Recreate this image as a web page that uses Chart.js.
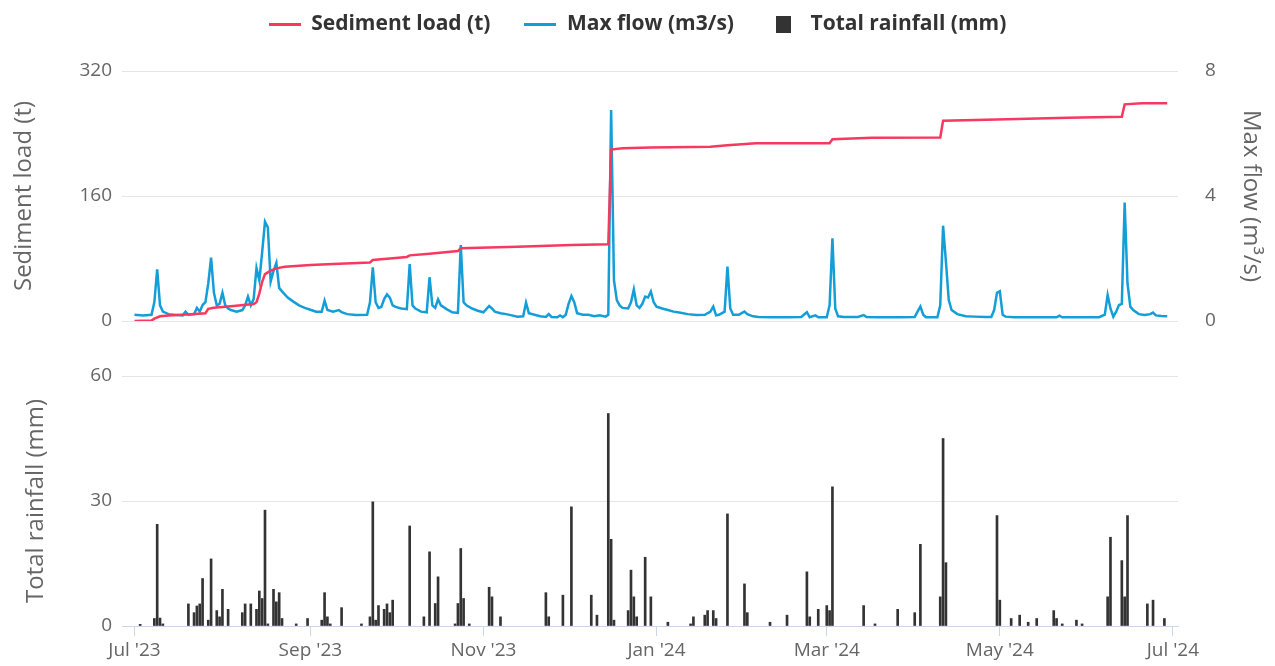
<!DOCTYPE html>
<html>
<head>
<meta charset="utf-8">
<title>Sediment load, max flow and rainfall</title>
<script src="https://cdn.jsdelivr.net/npm/chart.js@4.4.1/dist/chart.umd.min.js"></script>
<style>
  html, body { margin: 0; padding: 0; background: #ffffff; }
  #wrap { width: 1275px; height: 666px; }
</style>
</head>
<body>
<div id="wrap"><canvas id="myChart" width="1275" height="666"></canvas></div>
<script>
// x values are day numbers counted from 1 Jul 2023 (day 0)
const tickDays   = [0, 62, 123, 184, 244, 305, 366];
const tickLabels = ["Jul '23", "Sep '23", "Nov '23", "Jan '24", "Mar '24", "May '24", "Jul '24"];

// Sediment load (t), cumulative - at its corners
const sedimentDays = [0, 6, 7, 9, 12, 20, 25, 26, 28, 34, 42, 43, 44, 45, 46, 48, 50, 53, 62, 70,
                      83, 84, 90, 96, 97, 104, 114, 115, 125, 135, 154, 167, 168, 172, 182, 203, 209, 219,
                      245, 246, 260, 284, 285, 304, 329, 348, 349, 355, 364];
const sedimentLoad = [0, 0.5, 3, 6, 7, 8.5, 10, 15.5, 17, 19, 21.8, 24, 35, 50, 60, 64.5, 67.4, 69.5, 71.7, 73,
                      74.8, 78, 80, 82, 84, 86, 89.5, 93, 94, 95, 97.3, 98.1, 219.5, 221, 222, 223, 225, 227.4,
                      227.6, 232.6, 234.5, 235, 256.4, 258, 260.3, 261.5, 277.3, 278.6, 278.8];

// Max flow (m3/s)
const flowDays = [0, 3, 6, 7, 8, 9, 10, 12, 14, 17, 18, 19, 21, 22, 23, 24, 25, 26, 27, 28, 29, 30,
                  31, 32, 33, 34, 36, 38, 39, 40, 41, 42, 43, 44, 45, 46, 47, 48, 49, 50, 51, 52, 54, 56, 58, 60,
                  62, 64, 66, 67, 68, 70, 72, 73, 75, 78, 82, 83, 84, 85, 86, 87, 88, 89, 90,
                  91, 92, 94, 96, 97, 98, 99, 101, 103, 104, 105, 106, 107, 108, 110, 112, 114, 115, 116, 117, 119, 121,
                  123, 125, 126, 127, 129, 131, 133, 135, 137, 138, 139, 141, 143, 145, 146, 147, 149, 150, 151, 152,
                  153, 154, 155, 156, 158, 160, 162, 164, 166, 167, 168, 169, 170, 171, 172, 174, 175, 176, 177, 178, 179, 180, 181, 182,
                  183, 184, 186, 188, 190, 192, 195, 198, 201, 203, 204, 205, 206, 208, 209, 210, 211, 213,
                  214, 215, 216, 218, 220, 225, 230, 235, 237, 238, 240, 241, 244, 245, 246, 247, 248, 250, 255, 257, 258, 262, 270,
                  275, 276, 277, 278, 279, 283, 284, 285, 286, 287, 288, 290, 293, 296, 300, 302, 303, 304, 305, 306, 307, 310, 320,
                  325, 326, 327, 335, 340, 342, 343, 344, 345, 346, 347, 348, 349, 350, 351, 352, 354, 356, 358, 359, 360, 362, 364];
const flowMax  = [0.2, 0.18, 0.2, 0.6, 1.65, 0.5, 0.3, 0.22, 0.2, 0.18, 0.3, 0.2, 0.22, 0.42, 0.3, 0.51, 0.6, 1.2, 2.03, 0.9, 0.5, 0.55,
                  0.9, 0.5, 0.4, 0.35, 0.3, 0.35, 0.5, 0.78, 0.5, 0.7, 1.69, 1.3, 2.2, 3.18, 3.0, 1.26, 1.6, 1.86, 1.06, 0.95, 0.75, 0.62, 0.5, 0.42,
                  0.36, 0.3, 0.3, 0.65, 0.35, 0.3, 0.35, 0.28, 0.22, 0.19, 0.2, 0.6, 1.72, 0.6, 0.42, 0.45, 0.7, 0.85, 0.75,
                  0.5, 0.45, 0.4, 0.38, 1.82, 0.5, 0.4, 0.3, 0.28, 1.4, 0.5, 0.42, 0.69, 0.5, 0.38, 0.28, 0.26, 2.43, 0.6, 0.5, 0.4, 0.33,
                  0.28, 0.48, 0.4, 0.3, 0.25, 0.22, 0.18, 0.14, 0.15, 0.59, 0.25, 0.2, 0.15, 0.13, 0.22, 0.13, 0.12, 0.18, 0.12, 0.2,
                  0.55, 0.8, 0.6, 0.25, 0.2, 0.2, 0.15, 0.18, 0.14, 0.2, 6.75, 1.31, 0.67, 0.5, 0.42, 0.4, 0.6, 1.01, 0.5, 0.42, 0.55, 0.78, 0.75, 0.94,
                  0.6, 0.46, 0.4, 0.35, 0.3, 0.27, 0.22, 0.19, 0.2, 0.3, 0.46, 0.18, 0.2, 0.3, 1.74, 0.4, 0.2, 0.2,
                  0.25, 0.3, 0.22, 0.15, 0.13, 0.12, 0.12, 0.13, 0.28, 0.12, 0.18, 0.12, 0.12, 0.5, 2.65, 0.4, 0.15, 0.13, 0.13, 0.19, 0.13, 0.12, 0.12,
                  0.13, 0.3, 0.46, 0.2, 0.12, 0.12, 0.5, 3.05, 1.9, 0.67, 0.35, 0.22, 0.15, 0.14, 0.13, 0.13, 0.35, 0.9, 0.95, 0.2, 0.14, 0.12, 0.12,
                  0.12, 0.17, 0.12, 0.12, 0.12, 0.2, 0.83, 0.4, 0.14, 0.3, 0.51, 0.55, 3.79, 1.2, 0.46, 0.35, 0.22, 0.19, 0.22, 0.27, 0.18, 0.16, 0.15];

// Total rainfall (mm), rainy days only
const rainDays  = [2, 7, 8, 9, 10, 19, 21, 22, 23, 24, 26, 27, 29, 30, 31, 33, 38, 39, 41, 43, 44, 45, 46, 47, 49, 50, 51, 52,
                   57, 61, 66, 67, 68, 69, 73, 80, 83, 84, 85, 86, 88, 89, 90, 91, 97, 102, 104, 106, 107, 113, 114, 115, 116, 118,
                   125, 126, 129, 145, 146, 151, 154, 161, 163, 167, 168, 169, 174, 175, 176, 177, 180, 182, 188, 196, 197,
                   201, 202, 204, 205, 209, 215, 216, 224, 230, 237, 238, 241, 244, 245, 246, 257, 261, 269, 275, 277,
                   284, 285, 286, 304, 305, 309, 312, 315, 318, 324, 325, 327, 332, 334, 343, 344, 348, 349, 350, 357, 359, 363];
const rainTotal = [0.4, 1.8, 24.4, 1.9, 0.5, 5.3, 3.2, 4.8, 5.3, 11.4, 1.4, 16.1, 3.7, 2.2, 8.8, 4.0, 3.2, 5.3, 5.3, 4.0, 8.4, 6.6, 27.8, 0.5, 8.8, 5.8, 8.0, 1.8,
                   0.5, 1.8, 1.4, 8.0, 2.2, 0.5, 4.4, 0.5, 2.2, 29.8, 1.4, 4.9, 4.0, 5.3, 3.2, 6.2, 24.0, 2.2, 17.8, 5.4, 11.8, 0.5, 5.4, 18.6, 6.6, 0.5,
                   9.3, 7.0, 2.2, 8.0, 2.2, 7.4, 28.6, 7.4, 2.6, 51.0, 20.8, 1.4, 3.7, 13.4, 7.0, 2.2, 16.5, 7.0, 0.9, 0.5, 2.2,
                   2.6, 3.7, 3.7, 1.8, 26.9, 10.1, 3.2, 0.9, 2.6, 13.0, 2.2, 4.0, 4.9, 3.7, 33.4, 4.9, 0.5, 4.0, 3.2, 19.6,
                   7.0, 45.0, 15.2, 26.5, 6.2, 1.8, 2.6, 0.9, 1.8, 3.7, 1.8, 0.5, 1.4, 0.5, 7.0, 21.3, 15.7, 7.0, 26.5, 5.3, 6.2, 1.8];

const RED   = '#f7385f';
const BLUE  = '#149ed8';
const BLACK = '#333333';

Chart.defaults.font.family = "'Open Sans', sans-serif";
Chart.defaults.color = '#666666';

// small pictures for the legend keys (line, line, square)
function makeSymbol(w, h, color) {
    const c = document.createElement('canvas');
    c.width = w;
    c.height = h;
    const g = c.getContext('2d');
    g.fillStyle = color;
    g.fillRect(0, 0, w, h);
    return c;
}
const legendSymbols = [makeSymbol(32, 3, RED), makeSymbol(32, 3, BLUE), makeSymbol(15, 17, BLACK)];

function toPoints(xs, ys) {
    return xs.map((x, i) => ({ x: x, y: ys[i] }));
}

// legend needs some room under it before the first pane starts
const legendGap = {
    id: 'legendGap',
    beforeInit(chart) {
        const fit = chart.legend.fit;
        chart.legend.fit = function () {
            fit.bind(chart.legend)();
            this.height += 26;
        };
    }
};

const hiddenAxis = {
    ticks: { display: false },
    grid: { display: false, drawTicks: false },
    border: { display: false }
};

const ctx = document.getElementById('myChart').getContext('2d');

new Chart(ctx, {
    type: 'line',
    data: {
        datasets: [{
            type: 'line',
            label: 'Sediment load (t)',
            data: toPoints(sedimentDays, sedimentLoad),
            yAxisID: 'ySed',
            borderColor: RED,
            backgroundColor: RED,
            borderWidth: 2.5,
            pointRadius: 0,
            tension: 0
        }, {
            type: 'line',
            label: 'Max flow (m3/s)',
            data: toPoints(flowDays, flowMax),
            yAxisID: 'yFlow',
            borderColor: BLUE,
            backgroundColor: BLUE,
            borderWidth: 2.5,
            pointRadius: 0,
            tension: 0
        }, {
            type: 'bar',
            label: 'Total rainfall (mm)',
            data: toPoints(rainDays, rainTotal),
            yAxisID: 'yRain',
            backgroundColor: BLACK,
            barThickness: 2
        }]
    },
    options: {
        responsive: false,
        devicePixelRatio: 1,
        animation: false,
        layout: { padding: { top: -20, left: 0, right: 0, bottom: 0 } },
        plugins: {
            tooltip: { enabled: false },
            legend: {
                position: 'top',
                labels: {
                    usePointStyle: true,
                    pointStyleWidth: 32,
                    padding: 34,
                    color: '#333333',
                    font: { size: 21, weight: 'bold' },
                    generateLabels(chart) {
                        const items = Chart.defaults.plugins.legend.labels.generateLabels(chart);
                        items.forEach(item => { item.pointStyle = legendSymbols[item.datasetIndex]; });
                        return items;
                    }
                }
            }
        },
        scales: {
            x: {
                type: 'linear',
                min: -4.4,
                max: 367.8,
                offset: false,
                afterBuildTicks: scale => { scale.ticks = tickDays.map(v => ({ value: v })); },
                afterFit: scale => { scale.height = 40; },
                ticks: {
                    autoSkip: false,
                    maxRotation: 0,
                    padding: 3,
                    font: { size: 19 },
                    callback: (value, index) => tickLabels[index]
                },
                grid: { offset: false, drawOnChartArea: false, color: '#ccd6eb', tickLength: 10 },
                border: { color: '#ccd6eb' }
            },
            // left side: panes are stacked, the last one given sits on top
            yRain: {
                position: 'left',
                stack: 'panes',
                stackWeight: 250,
                min: 0,
                max: 60,
                afterFit: scale => { scale.width = 122; },
                ticks: { stepSize: 30, padding: 10, font: { size: 19 } },
                grid: { color: '#e6e6e6', drawTicks: false },
                border: { display: false },
                title: { display: true, text: 'Total rainfall (mm)', font: { size: 24 }, padding: { top: 22 } }
            },
            yGapLeft: Object.assign({ position: 'left', stack: 'panes', stackWeight: 55 }, hiddenAxis),
            ySed: {
                position: 'left',
                stack: 'panes',
                stackWeight: 250,
                min: 0,
                max: 320,
                afterFit: scale => { scale.width = 122; },
                ticks: { stepSize: 160, padding: 10, font: { size: 19 } },
                grid: { color: '#e6e6e6', drawTicks: false },
                border: { display: false },
                title: { display: true, text: 'Sediment load (t)', font: { size: 24 }, padding: { top: 10 } }
            },
            // right side: the first one given sits on top
            yFlow: {
                position: 'right',
                stack: 'panes',
                stackWeight: 250,
                min: 0,
                max: 8,
                afterFit: scale => { scale.width = 97; },
                ticks: { stepSize: 4, padding: 27, font: { size: 19 } },
                grid: { drawOnChartArea: false, drawTicks: false },
                border: { display: false },
                title: { display: true, text: 'Max flow (m³/s)', font: { size: 24 }, padding: { top: 10 } }
            },
            yGapRight: Object.assign({ position: 'right', stack: 'panes', stackWeight: 305 }, hiddenAxis)
        }
    },
    plugins: [legendGap]
});
</script>
</body>
</html>
